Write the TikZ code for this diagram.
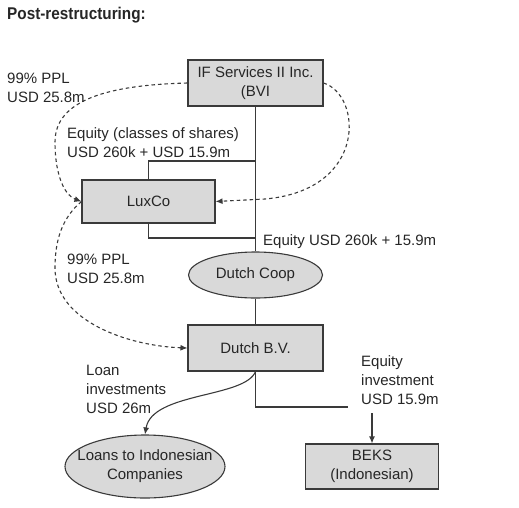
\documentclass[tikz,border=0pt]{standalone}
\usepackage{fontspec}
\setmainfont{Liberation Sans}
\newfontfamily\titlefont[FakeStretch=0.9]{Liberation Sans}
\usetikzlibrary{shapes.geometric,arrows.meta}

\definecolor{boxfill}{HTML}{D9D9D9}
\definecolor{boxline}{HTML}{3A3A3A}
\definecolor{txtcol}{HTML}{262626}

\tikzset{
  entbox/.style={draw=boxline, fill=boxfill, rectangle, line width=1.1pt,
    minimum width=135pt, minimum height=46pt, inner sep=0pt, align=center,
    text=txtcol, font={\fontsize{15}{19}\selectfont}},
  entoval/.style={draw=boxline, fill=boxfill, ellipse, line width=1.1pt,
    inner xsep=-20pt, inner ysep=0pt, align=center,
    text=txtcol, font={\fontsize{15}{19}\selectfont}},
  lbl/.style={anchor=west, inner sep=0pt, align=left, text=txtcol,
    font={\fontsize{15}{19}\selectfont}},
  link/.style={draw=boxline, line width=1.1pt},
  flow/.style={link, dash pattern=on 3.5pt off 3pt, -{Latex[length=7pt,width=6pt]}},
}

\begin{document}
\begin{tikzpicture}[x=1pt, y=-1pt]

\useasboundingbox (0,0) rectangle (519,507);

\node [anchor=west, inner sep=0pt, text=txtcol,
font={\titlefont\bfseries\fontsize{17}{17}\selectfont}] (title)
 at (7,15) {Post-restructuring:};


% entities
\node [entbox] (ifs) at (255.5,83) {IF Services II Inc.\\(BVI};

\node [entbox, minimum width=133pt, minimum height=43pt] (lux) at (148.5,201.5) {LuxCo};

\node [entoval, minimum width=134pt, minimum height=46pt] (coop) at (255.5,275) {Dutch Coop};

\node [entbox] (dbv) at (255.5,348) {Dutch B.V.};

\node [entoval, minimum width=160pt, minimum height=63pt] (loans) at (145,466.5)
 {Loans to Indonesian\\Companies};

\node [entbox, minimum width=133pt, minimum height=45pt] (beks) at (372,466.5)
 {BEKS\\(Indonesian)};


% ownership lines
\coordinate (eqtop) at (255.5,161);
\coordinate (eqbot) at (255.5,238);
\coordinate (eqinv) at (348,407);
\coordinate (bekstop) at (372,413);

\draw [link] (ifs.south) -- (coop.north);
\draw [link] (eqtop) -| (lux.north);
\draw [link] (lux.south) |- (eqbot);
\draw [link] (coop.south) -- (dbv.north);
\draw [link] (dbv.south) |- (eqinv);
\draw [link, -{Latex[length=7pt,width=6pt]}] (bekstop) -- (beks.north);

\draw [link, -{Latex[length=7pt,width=6pt]}] (dbv.south)
 .. controls (245,398) and (152,392) .. (loans.north);


% PPL flows
\draw [flow] (ifs.west) .. controls (108,85) and (55,100) .. (55,142)
 .. controls (55,178) and (66,196) .. (lux.west);

\draw [flow] (ifs.east) .. controls (362,95) and (368,190) .. (265,199)
 -- (lux.east);

\draw [flow] (lux.west) .. controls (62,218) and (55,240) .. (55,268)
 .. controls (55,322) and (130,346) .. (dbv.west);


% labels
\node [lbl] (ppl1) at (7,88) {99\% PPL\\USD 25.8m};

\node [lbl] (eqcls) at (67,143) {Equity (classes of shares)\\USD 260k + USD 15.9m};

\node [lbl] (eqcoop) at (263,242) {Equity USD 260k + 15.9m};

\node [lbl] (ppl2) at (67,269) {99\% PPL\\USD 25.8m};

\node [lbl] (loaninv) at (86,389) {Loan\\investments\\USD 26m};

\node [lbl] (eqbeks) at (361,380) {Equity\\investment\\USD 15.9m};

\end{tikzpicture}
\end{document}
